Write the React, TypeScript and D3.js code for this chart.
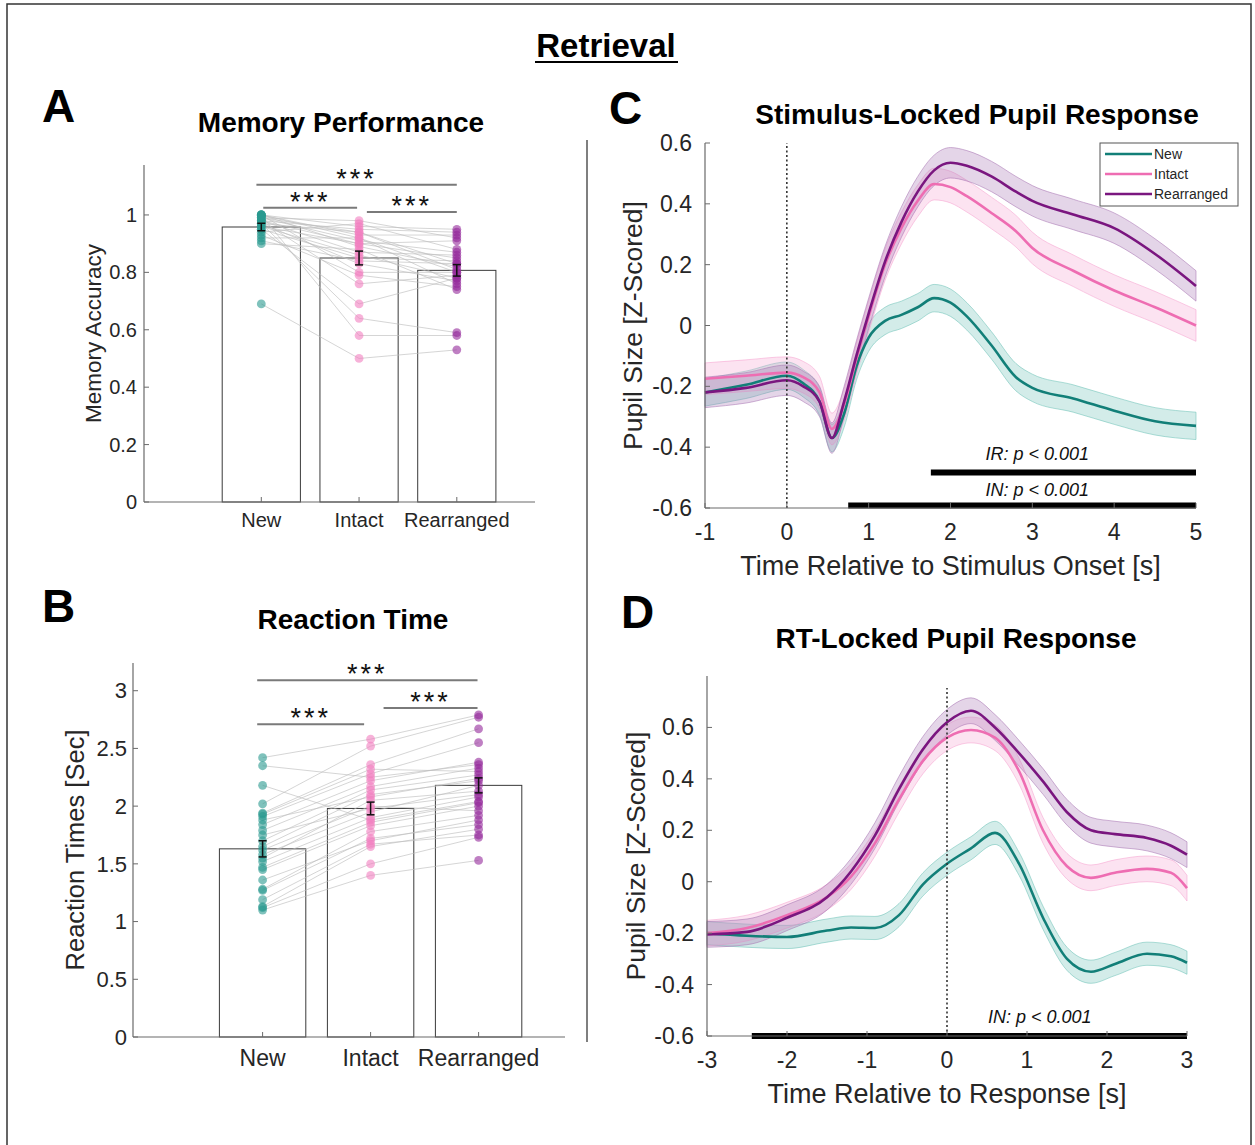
import React from 'react'
import * as d3 from 'd3'

const font = "'Liberation Sans', Arial, Helvetica, sans-serif"

// conditions + colours
const conditions = ['New', 'Intact', 'Rearranged']
const dotColors = ['#2a9a90', '#f27fc0', '#952a9b']
const lineColors = ['#127f78', '#ee6db2', '#7a167f']
const bandColors = ['#6cc1b7', '#f5a3cf', '#a775b3']

// A: memory accuracy (per subject, same order in each condition)
const accMean = [0.958, 0.85, 0.807]
const accSem = [0.013, 0.024, 0.02]
const accNew = [0.69, 1.0, 0.97, 0.95, 0.98, 0.93, 1.0, 0.97, 0.95, 0.98, 0.9, 1.0, 0.96, 0.99, 0.92, 1.0, 0.97, 0.98, 1.0, 0.94, 0.99, 0.96, 1.0, 0.91, 0.98, 0.99]
const accIntact = [0.5, 0.58, 0.64, 0.69, 0.76, 0.79, 0.8, 0.83, 0.85, 0.87, 0.88, 0.89, 0.9, 0.91, 0.92, 0.93, 0.94, 0.95, 0.96, 0.97, 0.98, 0.86, 0.92, 0.84, 0.9, 0.94]
const accRear = [0.53, 0.58, 0.59, 0.78, 0.79, 0.75, 0.8, 0.77, 0.84, 0.86, 0.74, 0.82, 0.85, 0.87, 0.76, 0.93, 0.81, 0.94, 0.95, 0.88, 0.92, 0.78, 0.8, 0.83, 0.91, 0.83]
const accTicks = [0, 0.2, 0.4, 0.6, 0.8, 1]
const accSig = [
  { x1: 0.95, x2: 3.0, y: 1.105 },
  { x1: 1.02, x2: 1.98, y: 1.025 },
  { x1: 2.08, x2: 3.0, y: 1.01 },
]

// B: reaction times
const rtMean = [1.63, 1.98, 2.18]
const rtSem = [0.07, 0.055, 0.065]
const rtNew = [1.1, 1.12, 1.13, 1.19, 1.27, 1.28, 1.36, 1.45, 1.47, 1.52, 1.55, 1.58, 1.62, 1.65, 1.7, 1.75, 1.79, 1.84, 1.88, 1.91, 1.93, 1.94, 2.02, 2.18, 2.35, 2.42]
const rtIntact = [1.4, 1.5, 1.65, 1.67, 1.72, 1.78, 1.7, 1.83, 1.86, 1.9, 2.05, 1.95, 2.0, 2.1, 2.14, 1.98, 2.17, 2.22, 2.08, 2.28, 2.32, 2.36, 2.52, 1.88, 2.25, 2.58]
const rtRear = [1.53, 1.73, 1.8, 1.75, 1.84, 1.92, 1.88, 2.0, 2.03, 2.08, 2.13, 2.18, 1.96, 2.22, 2.27, 2.1, 2.33, 2.38, 2.24, 2.55, 2.3, 2.67, 2.77, 2.04, 2.36, 2.79]
const rtTicks = [0, 0.5, 1, 1.5, 2, 2.5, 3]
const rtSig = [
  { x1: 0.95, x2: 2.99, y: 3.09 },
  { x1: 0.95, x2: 1.94, y: 2.71 },
  { x1: 2.12, x2: 2.99, y: 2.85 },
]

// C: stimulus-locked pupil
const timeC = [-1, -0.5, 0, 0.2, 0.4, 0.55, 0.7, 0.85, 1.0, 1.2, 1.4, 1.6, 1.8, 2.0, 2.2, 2.5, 2.8, 3.0, 3.5, 4.0, 4.5, 5.0]
const stimNew = [-0.22, -0.195, -0.165, -0.19, -0.25, -0.37, -0.29, -0.135, -0.04, 0.015, 0.035, 0.06, 0.09, 0.075, 0.03, -0.065, -0.17, -0.205, -0.24, -0.28, -0.315, -0.33]
const stimIntact = [-0.175, -0.165, -0.155, -0.17, -0.22, -0.34, -0.26, -0.11, 0.03, 0.2, 0.32, 0.41, 0.465, 0.455, 0.425, 0.37, 0.31, 0.255, 0.18, 0.115, 0.06, 0.0]
const stimRear = [-0.22, -0.205, -0.18, -0.2, -0.25, -0.37, -0.25, -0.1, 0.04, 0.21, 0.34, 0.44, 0.51, 0.535, 0.525, 0.49, 0.44, 0.41, 0.365, 0.32, 0.235, 0.13]
const stimCi = [0.045, 0.052, 0.05]
const ticksC = [-0.6, -0.4, -0.2, 0, 0.2, 0.4, 0.6]
const timeTicksC = [-1, 0, 1, 2, 3, 4, 5]
const sigC = [
  { label: 'IR', x1: 1.76, x2: 5, y: -0.483, lx: 3.06, ly: -0.42 },
  { label: 'IN', x1: 0.75, x2: 5, y: -0.592, lx: 3.06, ly: -0.54 },
]

// D: RT-locked pupil
const timeD = [-3, -2.5, -2.0, -1.5, -1.2, -0.9, -0.6, -0.3, 0, 0.3, 0.6, 0.9, 1.2, 1.5, 1.8, 2.1, 2.5, 2.8, 3.0]
const respNew = [-0.2, -0.21, -0.215, -0.19, -0.178, -0.18, -0.13, -0.01, 0.07, 0.13, 0.19, 0.07, -0.14, -0.3, -0.35, -0.32, -0.28, -0.29, -0.315]
const respIntact = [-0.2, -0.18, -0.13, -0.06, 0.02, 0.15, 0.32, 0.47, 0.56, 0.59, 0.56, 0.43, 0.2, 0.06, 0.015, 0.035, 0.05, 0.035, -0.025]
const respRear = [-0.205, -0.195, -0.14, -0.06, 0.04, 0.18, 0.36, 0.515, 0.62, 0.665, 0.6, 0.5, 0.39, 0.27, 0.2, 0.185, 0.17, 0.14, 0.105]
const respCi = [0.045, 0.05, 0.05]
const ticksD = [-0.6, -0.4, -0.2, 0, 0.2, 0.4, 0.6]
const timeTicksD = [-3, -2, -1, 0, 1, 2, 3]
const sigD = [{ label: 'IN', x1: -2.44, x2: 3, y: -0.6, lx: 1.16, ly: -0.525 }]

const axisColor = '#6a6a6a'
const textColor = '#262626'

function BarPanel(props: any) {
  const { box, yMax, ticks, means, sems, subjects, sig, tickSize, catSize, yLabel, yLabelSize, yLabelX, labelRight } = props
  const x = d3.scaleLinear().domain([-0.2, 3.8]).range([box.left, box.right])
  const y = d3.scaleLinear().domain([0, yMax]).range([box.bottom, box.top])
  const bw = x(0.8) - x(0)
  const n = subjects[0].length
  return (
    <g>
      {means.map((m: number, i: number) => (
        <rect key={'b' + i} x={x(i + 1) - bw / 2} y={y(m)} width={bw} height={y(0) - y(m)} fill='#fff' stroke='#3a3a3a' strokeWidth={1} />
      ))}
      {d3.range(n).map((s) => (
        <polyline key={'s' + s} fill='none' stroke='#bdbdbd' strokeWidth={0.8} opacity={0.8}
          points={subjects.map((arr: number[], i: number) => `${x(i + 1)},${y(arr[s])}`).join(' ')} />
      ))}
      {subjects.map((arr: number[], i: number) =>
        arr.map((v, s) => <circle key={`d${i}-${s}`} cx={x(i + 1)} cy={y(v)} r={4.4} fill={dotColors[i]} opacity={0.6} />)
      )}
      {means.map((m: number, i: number) => (
        <g key={'e' + i} stroke='#111' strokeWidth={1.5}>
          <line x1={x(i + 1)} x2={x(i + 1)} y1={y(m - sems[i])} y2={y(m + sems[i])} />
          <line x1={x(i + 1) - 4} x2={x(i + 1) + 4} y1={y(m - sems[i])} y2={y(m - sems[i])} />
          <line x1={x(i + 1) - 4} x2={x(i + 1) + 4} y1={y(m + sems[i])} y2={y(m + sems[i])} />
        </g>
      ))}
      {sig.map((d: any, i: number) => (
        <g key={'g' + i}>
          <line x1={x(d.x1)} x2={x(d.x2)} y1={y(d.y)} y2={y(d.y)} stroke='#7a7a7a' strokeWidth={2} />
          <text x={(x(d.x1) + x(d.x2)) / 2} y={y(d.y) + 3} textAnchor='middle' fontSize={27} letterSpacing={3} fill='#111' fontFamily={font}>***</text>
        </g>
      ))}
      <line x1={box.left} x2={box.left} y1={box.top} y2={box.bottom} stroke={axisColor} strokeWidth={1.2} />
      <line x1={box.left} x2={box.right} y1={box.bottom} y2={box.bottom} stroke={axisColor} strokeWidth={1.2} />
      {ticks.map((t: number) => (
        <g key={'t' + t}>
          <line x1={box.left} x2={box.left + 5} y1={y(t)} y2={y(t)} stroke={axisColor} />
          <text x={labelRight} y={y(t)} dy='0.35em' textAnchor='end' fontSize={tickSize} fill={textColor} fontFamily={font}>{t}</text>
        </g>
      ))}
      {conditions.map((c, i) => (
        <g key={'c' + i}>
          <line x1={x(i + 1)} x2={x(i + 1)} y1={box.bottom} y2={box.bottom - 5} stroke={axisColor} />
          <text x={x(i + 1)} y={box.bottom + catSize * 1.25} textAnchor='middle' fontSize={catSize} fill={textColor} fontFamily={font}>{c}</text>
        </g>
      ))}
      <text transform={`translate(${yLabelX},${(box.top + box.bottom) / 2}) rotate(-90)`} textAnchor='middle' dy='0.35em'
        fontSize={yLabelSize} fill={textColor} fontFamily={font}>{yLabel}</text>
    </g>
  )
}

function PupilPanel(props: any) {
  const { box, xDomain, yDomain, time, series, ci, yTicks, xTicks, sig, xLabel, yLabelX, legend } = props
  const x = d3.scaleLinear().domain(xDomain).range([box.left, box.right])
  const y = d3.scaleLinear().domain(yDomain).range([box.bottom, box.top])
  const line = d3.line<number>().x((_, i) => x(time[i])).y((d) => y(d)).curve(d3.curveMonotoneX)
  return (
    <g>
      {series.map((vals: number[], k: number) => {
        const area = d3.area<number>().x((_, i) => x(time[i])).y0((d) => y(d - ci[k])).y1((d) => y(d + ci[k])).curve(d3.curveMonotoneX)
        return <path key={'a' + k} d={area(vals) || ''} fill={bandColors[k]} fillOpacity={0.3} stroke={bandColors[k]} strokeOpacity={0.55} strokeWidth={1} />
      })}
      {series.map((vals: number[], k: number) => (
        <path key={'l' + k} d={line(vals) || ''} fill='none' stroke={lineColors[k]} strokeWidth={2.6} />
      ))}
      <line x1={x(0)} x2={x(0)} y1={box.bottom} y2={box.dotTop} stroke='#333' strokeWidth={1.6} strokeDasharray='2,2.5' />
      {sig.map((d: any, i: number) => (
        <g key={'s' + i}>
          <line x1={x(d.x1)} x2={x(d.x2)} y1={y(d.y)} y2={y(d.y)} stroke='#000' strokeWidth={6} />
          <text x={x(d.lx)} y={y(d.ly)} dy='0.35em' textAnchor='middle' fontSize={18} fontStyle='italic' fill='#111' fontFamily={font}>
            {d.label}: p &lt; 0.001
          </text>
        </g>
      ))}
      <line x1={box.left} x2={box.left} y1={box.top} y2={box.bottom} stroke={axisColor} strokeWidth={1.2} />
      <line x1={box.left} x2={box.right} y1={box.bottom} y2={box.bottom} stroke={axisColor} strokeWidth={1.2} />
      {yTicks.map((t: number) => (
        <g key={'y' + t}>
          <line x1={box.left} x2={box.left + 5} y1={y(t)} y2={y(t)} stroke={axisColor} />
          <text x={box.left - 13} y={y(t)} dy='0.35em' textAnchor='end' fontSize={23} fill={textColor} fontFamily={font}>{t}</text>
        </g>
      ))}
      {xTicks.map((t: number) => (
        <g key={'x' + t}>
          <line x1={x(t)} x2={x(t)} y1={box.bottom} y2={box.bottom - 5} stroke={axisColor} />
          <text x={x(t)} y={box.bottom + 32} textAnchor='middle' fontSize={23} fill={textColor} fontFamily={font}>{t}</text>
        </g>
      ))}
      <text x={(box.left + box.right) / 2} y={box.bottom + 67} textAnchor='middle' fontSize={27} fill={textColor} fontFamily={font}>{xLabel}</text>
      <text transform={`translate(${yLabelX},${(box.top + box.bottom) / 2}) rotate(-90)`} textAnchor='middle' dy='0.35em'
        fontSize={26.5} fill={textColor} fontFamily={font}>Pupil Size [Z-Scored]</text>
      {legend && (
        <g>
          <rect x={legend.x} y={legend.y} width={138} height={63} fill='#fff' stroke='#555' strokeWidth={1} />
          {conditions.map((c, i) => (
            <g key={'lg' + i}>
              <line x1={legend.x + 5} x2={legend.x + 52} y1={legend.y + 11 + i * 20} y2={legend.y + 11 + i * 20} stroke={lineColors[i]} strokeWidth={2.6} />
              <text x={legend.x + 54} y={legend.y + 11 + i * 20} dy='0.35em' fontSize={14} fill={textColor} fontFamily={font}>{c}</text>
            </g>
          ))}
        </g>
      )}
    </g>
  )
}

const title = (x: number, y: number, s: string, size = 28) => (
  <text x={x} y={y} textAnchor='middle' fontSize={size} fontWeight='bold' fill='#000' fontFamily={font}>{s}</text>
)
const letter = (x: number, y: number, s: string) => (
  <text x={x} y={y} fontSize={46} fontWeight='bold' fill='#000' fontFamily={font}>{s}</text>
)

export default function App() {
  return (
    <svg width={1255} height={1145} style={{ position: 'absolute', left: 0, top: 0, background: '#fff' }}>
      <rect x={0} y={0} width={1255} height={1145} fill='#fff' />
      <rect x={7} y={4} width={1244} height={1160} fill='none' stroke='#333' strokeWidth={1.5} />
      <text x={606} y={57} textAnchor='middle' fontSize={33} fontWeight='bold' fill='#000' fontFamily={font}>Retrieval</text>
      <line x1={535} x2={678} y1={62} y2={62} stroke='#000' strokeWidth={2} />
      <line x1={587} x2={587} y1={140} y2={1042} stroke='#555' strokeWidth={1.5} />

      {letter(42, 122, 'A')}
      {title(341, 132, 'Memory Performance')}
      <BarPanel box={{ left: 144, right: 535, top: 165, bottom: 502 }} yMax={1.174} ticks={accTicks} means={accMean} sems={accSem}
        subjects={[accNew, accIntact, accRear]} sig={accSig} tickSize={20} catSize={20} labelRight={137}
        yLabel='Memory Accuracy' yLabelSize={22.5} yLabelX={93} />

      {letter(42, 622, 'B')}
      {title(353, 629, 'Reaction Time')}
      <BarPanel box={{ left: 133, right: 565, top: 663, bottom: 1037 }} yMax={3.24} ticks={rtTicks} means={rtMean} sems={rtSem}
        subjects={[rtNew, rtIntact, rtRear]} sig={rtSig} tickSize={22} catSize={23} labelRight={127}
        yLabel='Reaction Times [Sec]' yLabelSize={25.5} yLabelX={75} />

      {letter(609, 124, 'C')}
      {title(977, 124, 'Stimulus-Locked  Pupil  Response')}
      <PupilPanel box={{ left: 705, right: 1196, top: 143, bottom: 508, dotTop: 143 }} xDomain={[-1, 5]} yDomain={[-0.6, 0.6]}
        time={timeC} series={[stimNew, stimIntact, stimRear]} ci={stimCi} yTicks={ticksC} xTicks={timeTicksC} sig={sigC}
        xLabel='Time Relative to Stimulus Onset [s]' yLabelX={633} legend={{ x: 1100, y: 143 }} />

      {letter(621, 628, 'D')}
      {title(956, 648, 'RT-Locked Pupil Response')}
      <PupilPanel box={{ left: 707, right: 1187, top: 676, bottom: 1036, dotTop: 688 }} xDomain={[-3, 3]} yDomain={[-0.6, 0.8]}
        time={timeD} series={[respNew, respIntact, respRear]} ci={respCi} yTicks={ticksD} xTicks={timeTicksD}
        sig={sigD} xLabel='Time Relative to Response [s]' yLabelX={636} />
    </svg>
  )
}
